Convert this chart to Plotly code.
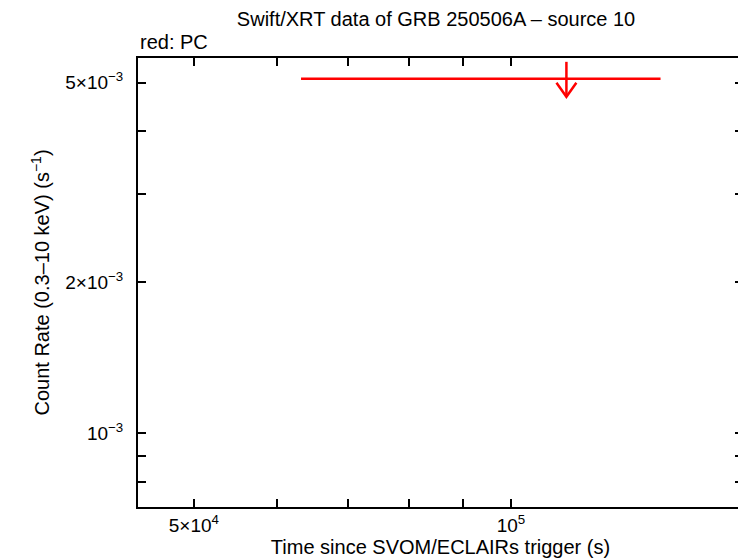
import numpy as np
import plotly.graph_objects as go

# ---- data (PC mode, upper limit) ----
t_start = [63200.0]
t_end = [138700.0]
t_mid = [112900.0]
rate_ul = [5.09e-3]

# ---- tick definitions ----
x_tickvals = [5e4, 1e5]
x_ticktext = ["5×10<sup>4</sup>", "10<sup>5</sup>"]
x_minor = [6e4, 7e4, 8e4, 9e4]
y_tickvals = [1e-3, 2e-3, 5e-3]
y_ticktext = ["10<sup>−3</sup>", "2×10<sup>−3</sup>", "5×10<sup>−3</sup>"]
y_minor = [8e-4, 9e-4, 3e-3, 4e-3]

# ---- style constants ----
RED = "#ff0000"
FONT = "Liberation Sans, Arial, Helvetica, sans-serif"
stem_up = 1.081      # multiplicative extent of arrow stem above value
stem_dn = 0.921      # arrow tip below value
head_h = 1.066       # arrow head height factor
head_w = 1.022       # arrow head half-width factor (x)

fig = go.Figure()

for ts, te, tm, r in zip(t_start, t_end, t_mid, rate_ul):
    fig.add_trace(go.Scatter(x=[ts, te], y=[r, r], mode="lines",
                             line=dict(color=RED, width=2.5), showlegend=False,
                             hoverinfo="skip"))
    tip = r * stem_dn
    fig.add_trace(go.Scatter(x=[tm, tm], y=[r * stem_up, tip], mode="lines",
                             line=dict(color=RED, width=2.5), showlegend=False,
                             hoverinfo="skip"))
    fig.add_trace(go.Scatter(x=[tm / head_w, tm, tm * head_w],
                             y=[tip * head_h, tip, tip * head_h], mode="lines",
                             line=dict(color=RED, width=2.5), showlegend=False,
                             hoverinfo="skip"))

axis_common = dict(
    showline=True, linecolor="black", linewidth=2, mirror="allticks",
    ticks="inside", ticklen=8, tickwidth=2, tickcolor="black",
    showgrid=False, zeroline=False, automargin=False,
    tickfont=dict(family=FONT, size=19, color="black"),
)

fig.update_xaxes(type="log", range=[np.log10(4.425e4), np.log10(1.661e5)],
                 tickmode="array", tickvals=x_tickvals, ticktext=x_ticktext,
                 minor=dict(tickmode="array", tickvals=x_minor, ticks="inside",
                            ticklen=8, tickwidth=2, tickcolor="black", showgrid=False),
                 title=dict(text="Time since SVOM/ECLAIRs trigger (s)",
                            font=dict(family=FONT, size=20, color="black"),
                            standoff=2),
                 **axis_common)
fig.update_yaxes(type="log", range=[np.log10(7.13e-4), np.log10(5.6e-3)],
                 tickmode="array", tickvals=y_tickvals, ticktext=y_ticktext,
                 minor=dict(tickmode="array", tickvals=y_minor, ticks="inside",
                            ticklen=8, tickwidth=2, tickcolor="black", showgrid=False),
                 ticklabelstandoff=9,
                 title=dict(text="Count Rate (0.3–10 keV) (s<sup>−1</sup>)",
                            font=dict(family=FONT, size=20, color="black"),
                            standoff=10),
                 **axis_common)

# page body adds an 8px margin, so the figure is shrunk by that amount
fig.update_layout(
    width=738, height=550,
    margin=dict(l=130, r=3, t=50, b=51),
    paper_bgcolor="white", plot_bgcolor="white",
    title=dict(text="Swift/XRT data of GRB 250506A – source 10",
               x=0.58, xanchor="center", y=0.98, yanchor="middle",
               font=dict(family=FONT, size=20, color="black")),
    annotations=[dict(text="red: PC", xref="paper", yref="paper",
                      x=0, y=1.0, xanchor="left", yanchor="bottom", yshift=3,
                      showarrow=False,
                      font=dict(family=FONT, size=20, color="black"))],
)

fig.write_html("out.html")
